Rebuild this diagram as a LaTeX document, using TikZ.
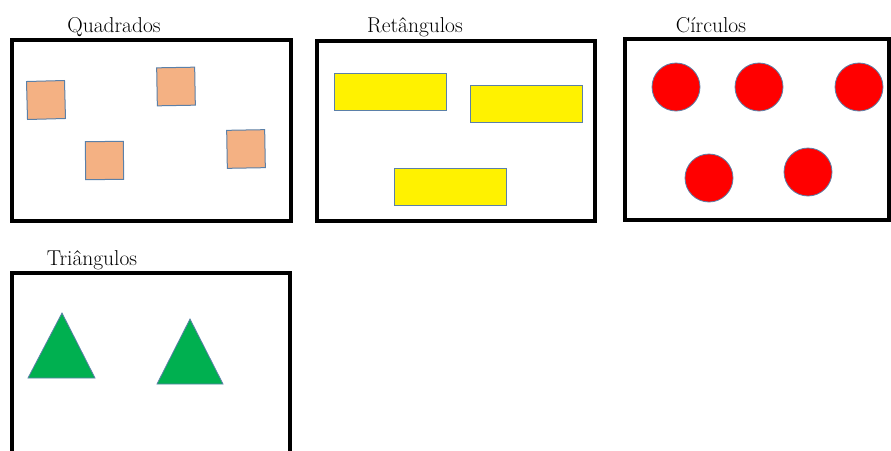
\documentclass[tikz,border=0pt]{standalone}
\usetikzlibrary{shapes}
\usetikzlibrary{positioning}
\definecolor{squarefill}{HTML}{F4B183}
\definecolor{shapeline}{HTML}{5B80A8}
\definecolor{trigreen}{HTML}{00B050}
\tikzset{
    frame/.style = {rectangle, draw=black, line width=4pt, inner sep=0pt},
    title/.style = {anchor=base, inner sep=0pt, font=\rmfamily\fontsize{21.5}{25}\selectfont},
    sq/.style = {rectangle, draw=shapeline, line width=1pt, fill=squarefill, minimum size=38pt, inner sep=0pt},
    bar/.style = {rectangle, draw=shapeline, line width=1pt, fill=yellow, minimum width=112pt, minimum height=37pt, inner sep=0pt},
    dot/.style = {circle, draw=shapeline, line width=0.8pt, fill=red, minimum size=48pt, inner sep=0pt},
    tri/.style = {draw=shapeline, line width=0.8pt, fill=trigreen}
}
\begin{document}
\begin{tikzpicture}[x=1pt,y=-1pt]
  \clip (0,0) rectangle (891,450);

  % quadrados
  \node[title] (tq) at (114,32) {Quadrados};
  \node[frame, minimum width=279pt, minimum height=181pt] (bq) at (151.5,130.5) {};
  \node[sq, rotate=1.5] (q1) at (46,100) {};
  \node[sq, rotate=1] (q2) at (176,86.5) {};
  \node[sq, rotate=0.5] (q3) at (104.5,160.5) {};
  \node[sq, rotate=1] (q4) at (246,149) {};

  % retangulos
  \node[title] (tr) at (415,32) {Retângulos};
  \node[frame, minimum width=278pt, minimum height=180pt] (br) at (456,131) {};
  \node[bar] (r1) at (390,91.5) {};
  \node[bar] (r2) at (526,103.5) {};
  \node[bar] (r3) at (450,186.5) {};

  % circulos
  \node[title] (tc) at (711,32) {Círculos};
  \node[frame, minimum width=264pt, minimum height=181pt] (bc) at (757,129.5) {};
  \node[dot] (c1) at (676,87) {};
  \node[dot] (c2) at (759,87) {};
  \node[dot] (c3) at (859,87) {};
  \node[dot] (c4) at (709,178) {};
  \node[dot] (c5) at (808,172) {};

  % triangulos
  \node[title] (tt) at (92,265) {Triângulos};
  \node[frame, minimum width=278pt, minimum height=197pt] (bt) at (151,371.5) {};
  \filldraw[tri] (62,313) -- (95,378) -- (28,378) -- cycle;
  \filldraw[tri] (190,319) -- (223,384) -- (157,384) -- cycle;
\end{tikzpicture}
\end{document}
